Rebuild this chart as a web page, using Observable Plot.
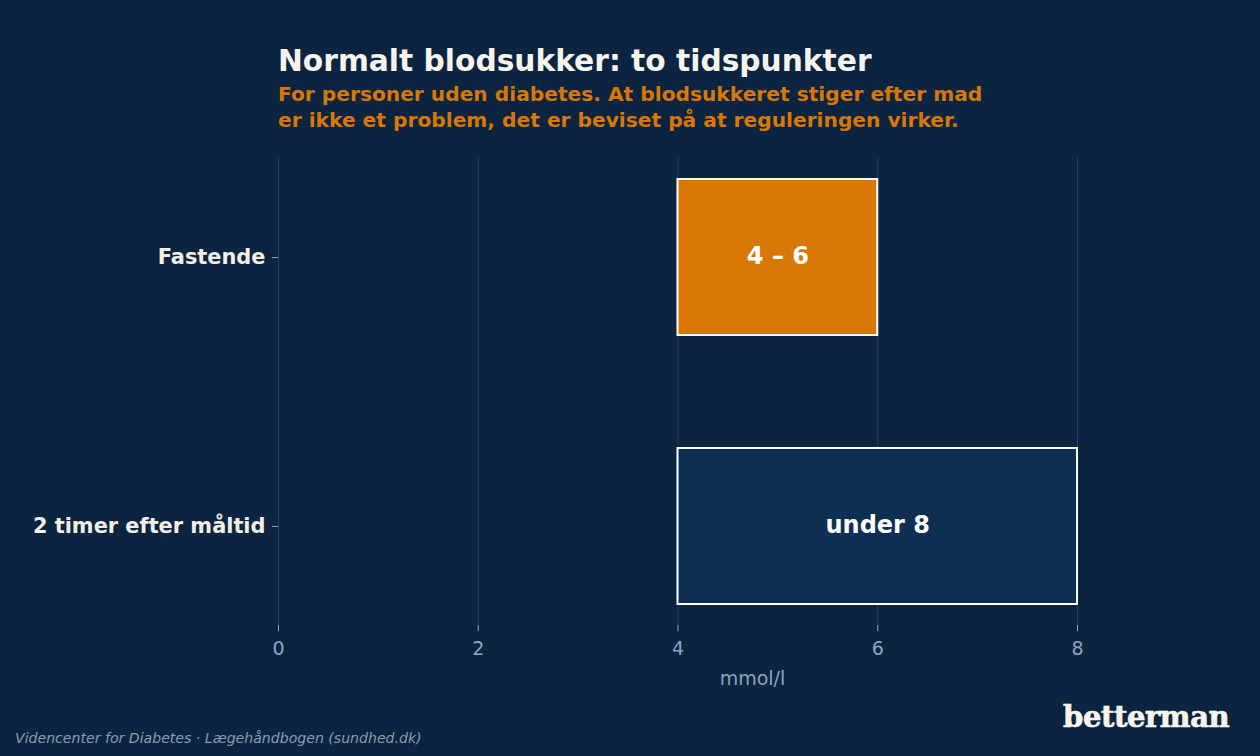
<!DOCTYPE html>
<html>
<head>
<meta charset="utf-8">
<script src="https://cdn.jsdelivr.net/npm/d3@7"></script>
<script src="https://cdn.jsdelivr.net/npm/@observablehq/plot@0.6"></script>
<style>
  html, body { margin: 0; padding: 0; }
  body { width: 1260px; height: 756px; background: #0b2540; overflow: hidden; position: relative; font-family: "DejaVu Sans", sans-serif; }
  #title { position: absolute; left: 278px; top: 43px; font-size: 29.7px; font-weight: bold; color: #f7f4ee; white-space: nowrap; }
  #subtitle { position: absolute; left: 278px; top: 81px; font-size: 20.2px; line-height: 26px; font-weight: bold; color: #d97706; white-space: nowrap; }
  #chart { position: absolute; left: 0; top: 140px; }
  #source { position: absolute; left: 15px; top: 730px; font-size: 14.1px; font-style: italic; color: #8a9ab0; white-space: nowrap; }
  #logo { position: absolute; left: 1063px; top: 700px; font-family: "DejaVu Serif", serif; font-weight: bold; font-size: 29px; color: #f7f4ee; letter-spacing: -0.4px; -webkit-text-stroke: 0.7px #f7f4ee; }
</style>
</head>
<body>
<div id="title">Normalt blodsukker: to tidspunkter</div>
<div id="subtitle">For personer uden diabetes. At blodsukkeret stiger efter mad<br>er ikke et problem, det er beviset på at reguleringen virker.</div>
<div id="chart"></div>
<div id="source">Videncenter for Diabetes · Lægehåndbogen (sundhed.dk)</div>
<div id="logo">betterman</div>
<script>
const categories = ["Fastende", "2 timer efter måltid"];
const lows = [4, 4];
const highs = [6, 8];
const barLabels = ["4 – 6", "under 8"];
const barFills = ["#d97706", "#0e2e52"];
const xTicks = [0, 2, 4, 6, 8];
const xLabel = "mmol/l";

const data = categories.map((c, i) => ({cat: c, lo: lows[i], hi: highs[i], label: barLabels[i], fill: barFills[i]}));

const chart = Plot.plot({
  width: 1260,
  height: 560,
  marginTop: 18,
  marginBottom: 75,
  marginLeft: 278,
  marginRight: 183,
  style: {background: "transparent", fontFamily: "DejaVu Sans", fontSize: "18px", color: "#8fa3bf"},
  x: {domain: [0, 8]},
  y: {domain: categories, paddingInner: 0.42, paddingOuter: 0.078},
  marks: [
    Plot.gridX(xTicks, {stroke: "#1f4169", strokeOpacity: 1, strokeWidth: 1}),
    Plot.barX(data, {x1: "lo", x2: "hi", y: "cat", fill: d => d.fill, stroke: "#ffffff", strokeWidth: 2}),
    Plot.text(data, {x: d => (d.lo + d.hi) / 2, y: "cat", text: "label", fill: "#ffffff", fontWeight: "bold", fontSize: 24, dy: -1.5}),
    Plot.axisX({ticks: xTicks, tickSize: 6, tickPadding: 10, fill: "#8fa3bf", stroke: "#8fa3bf", fontSize: 19, label: null}),
    Plot.text([xLabel], {frameAnchor: "bottom", text: d => d, dx: 74.5, dy: 59, fill: "#8fa3bf", fontSize: 19}),
    Plot.axisY({tickSize: 6, tickPadding: 7, fill: "#f3efe6", stroke: "#8fa3bf", fontSize: 20.9, fontWeight: "bold", label: null})
  ]
});
document.getElementById("chart").appendChild(chart);
</script>
</body>
</html>
